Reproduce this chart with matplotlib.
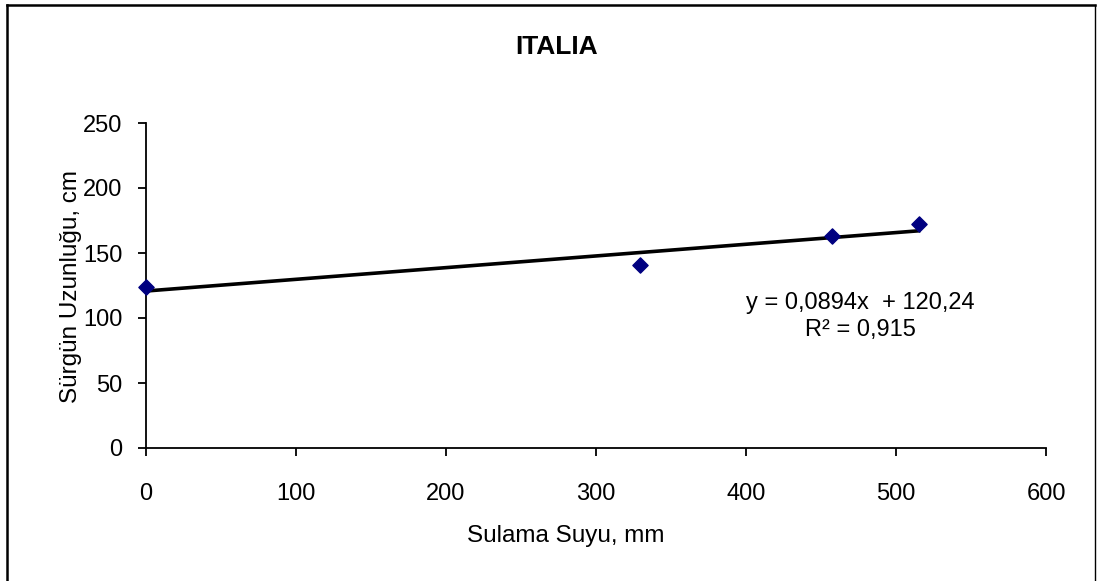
import numpy as np
import matplotlib.pyplot as plt
from matplotlib.lines import Line2D

plt.rcParams['font.family'] = ['Liberation Sans', 'DejaVu Sans']

# data
sulama = [0, 329, 457, 515]
surgun = [124, 141, 163, 172]
xticks = [0, 100, 200, 300, 400, 500, 600]
yticks = [0, 50, 100, 150, 200, 250]

W, H = 1097, 581
fig = plt.figure(figsize=(W / 100, H / 100), dpi=100)
ax = fig.add_axes([146 / W, 1 - 448 / H, 900 / W, 325 / H])

# linear trendline
slope, icept = np.polyfit(sulama, surgun, 1)
xs = np.array([min(sulama), max(sulama)])
ax.plot(xs, slope * xs + icept, color='black', lw=2.6, zorder=2)
ax.scatter(sulama, surgun, marker='D', s=60, color='#000080', zorder=3, clip_on=False)

ax.set_xlim(0, 600)
ax.set_ylim(0, 250)
ax.set_xticks(xticks)
ax.set_yticks(yticks)
ax.spines['top'].set_visible(False)
ax.spines['right'].set_visible(False)
for s in ('left', 'bottom'):
    ax.spines[s].set_linewidth(1.3)
ax.tick_params(direction='out', length=6, width=1.3, labelsize=17)
ax.tick_params(axis='x', pad=19)
ax.tick_params(axis='y', pad=11)

# titles placed like the original chart
fig.text(557 / W, 1 - 47 / H, 'ITALIA', fontsize=19, fontweight='bold', ha='center', va='center')
fig.text(566 / W, 1 - 536 / H, 'Sulama Suyu, mm', fontsize=17.5, ha='center', va='center')
fig.text(71 / W, 1 - 287 / H, 'Sürgün Uzunluğu, cm', fontsize=17.5, rotation=90,
         ha='center', va='center')

# trendline label
ax.text(476, 107, 'y = 0,0894x  + 120,24', ha='center', va='baseline', fontsize=17)
ax.text(476, 86.5, 'R² = 0,915', ha='center', va='baseline', fontsize=17)

# chart area border (left, top, right)
fig.add_artist(Line2D([0.0064, 0.0064], [0, 0.992], transform=fig.transFigure, color='black', lw=1.8))
fig.add_artist(Line2D([0.0064, 0.9985], [0.992, 0.992], transform=fig.transFigure, color='black', lw=1.8))
fig.add_artist(Line2D([0.9985, 0.9985], [0, 0.992], transform=fig.transFigure, color='black', lw=1.0))

fig.savefig('out.png', dpi=100)
